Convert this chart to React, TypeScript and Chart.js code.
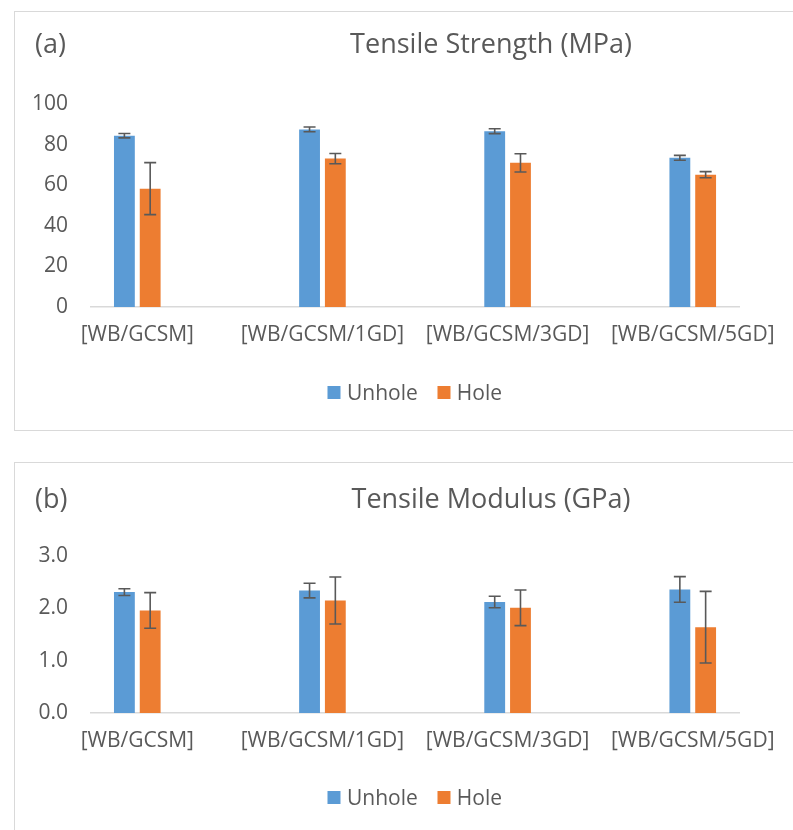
import React, { useEffect, useRef } from "react";
import { Chart, registerables } from "chart.js";

Chart.register(...registerables);

const categories = ["[WB/GCSM]", "[WB/GCSM/1GD]", "[WB/GCSM/3GD]", "[WB/GCSM/5GD]"];
const seriesNames = ["Unhole", "Hole"];

const strengthUnhole = [84.4, 87.5, 86.6, 73.5];
const strengthUnholeErr = [1.1, 1.2, 1.2, 1.2];
const strengthHole = [58.3, 73.1, 71.0, 65.2];
const strengthHoleErr = [12.8, 2.5, 4.5, 1.5];

const modulusUnhole = [2.31, 2.34, 2.12, 2.36];
const modulusUnholeErr = [0.065, 0.14, 0.11, 0.245];
const modulusHole = [1.96, 2.15, 2.01, 1.64];
const modulusHoleErr = [0.34, 0.45, 0.34, 0.685];

const strengthAxis = { min: 0, max: 100, step: 20, decimals: 0 };
const modulusAxis = { min: 0, max: 3, step: 1, decimals: 1 };

const BLUE = "#5B9BD5";
const ORANGE = "#ED7D31";
const TEXT = "#595959";
const LINE = "#D9D9D9";
const FONT = "'Open Sans', 'Noto Sans', sans-serif";

// Excel layout leaves an empty slot between each category
function spread<T>(arr: T[], blank: T): T[] {
  const out: T[] = [];
  arr.forEach((v, i) => {
    out.push(v);
    if (i < arr.length - 1) out.push(blank);
  });
  return out;
}

const errorBarPlugin = {
  id: "errorBars",
  afterDatasetsDraw(chart: any) {
    const ctx = chart.ctx;
    const yScale = chart.scales.y;
    chart.data.datasets.forEach((ds: any, di: number) => {
      const meta = chart.getDatasetMeta(di);
      const errs = ds.errors as (number | null)[];
      if (!errs) return;
      meta.data.forEach((el: any, i: number) => {
        const v = ds.data[i];
        const e = errs[i];
        if (v == null || e == null) return;
        const x = el.x;
        const yT = yScale.getPixelForValue(v + e);
        const yB = yScale.getPixelForValue(v - e);
        ctx.save();
        ctx.strokeStyle = TEXT;
        ctx.lineWidth = 1.6;
        ctx.beginPath();
        ctx.moveTo(x, yT);
        ctx.lineTo(x, yB);
        ctx.moveTo(x - 6, yT);
        ctx.lineTo(x + 6, yT);
        ctx.moveTo(x - 6, yB);
        ctx.lineTo(x + 6, yB);
        ctx.stroke();
        ctx.restore();
      });
    });
  },
};

type PanelProps = {
  top: number;
  height: number;
  tag: string;
  title: string;
  titleBaseline: number;
  unhole: number[];
  unholeErr: number[];
  hole: number[];
  holeErr: number[];
  axis: { min: number; max: number; step: number; decimals: number };
  areaTop: number;
  areaHeight: number;
  legendY: number;
};

function Panel(p: PanelProps) {
  const ref = useRef<HTMLCanvasElement | null>(null);
  const canvasW = 778;
  const canvasH = p.height;

  useEffect(() => {
    if (!ref.current) return;
    const xHeight = canvasH - p.areaTop - p.areaHeight;
    const chart = new Chart(ref.current, {
      type: "bar",
      data: {
        labels: spread(categories, ""),
        datasets: [
          {
            label: seriesNames[0],
            data: spread<number | null>(p.unhole, null),
            errors: spread<number | null>(p.unholeErr, null),
            backgroundColor: BLUE,
            borderWidth: 0,
            categoryPercentage: 0.557,
            barPercentage: 0.808,
          } as any,
          {
            label: seriesNames[1],
            data: spread<number | null>(p.hole, null),
            errors: spread<number | null>(p.holeErr, null),
            backgroundColor: ORANGE,
            borderWidth: 0,
            categoryPercentage: 0.557,
            barPercentage: 0.808,
          } as any,
        ],
      },
      options: {
        responsive: false,
        animation: false,
        devicePixelRatio: 1,
        layout: { padding: { left: 0, right: 49, top: p.areaTop, bottom: 0 } },
        plugins: {
          legend: { display: false },
          title: { display: false },
          tooltip: { enabled: false },
        },
        scales: {
          x: {
            offset: true,
            grid: { display: false, drawTicks: false },
            border: { display: true, color: LINE, width: 1.5 },
            ticks: {
              autoSkip: false,
              maxRotation: 0,
              minRotation: 0,
              padding: 15,
              color: TEXT,
              font: { family: FONT, size: 21 },
            },
            afterFit: (s: any) => {
              s.height = xHeight;
            },
          },
          y: {
            min: p.axis.min,
            max: p.axis.max,
            grid: { display: false, drawTicks: false },
            border: { display: false },
            ticks: {
              stepSize: p.axis.step,
              padding: 23,
              color: TEXT,
              font: { family: FONT, size: 21 },
              callback: (v: any) => Number(v).toFixed(p.axis.decimals),
            },
            afterFit: (s: any) => {
              s.width = 76;
            },
          },
        },
      },
      plugins: [errorBarPlugin],
    });
    return () => chart.destroy();
  }, []);

  const textStyle: React.CSSProperties = {
    position: "absolute",
    fontFamily: FONT,
    color: TEXT,
    whiteSpace: "nowrap",
    lineHeight: 1,
  };

  return (
    <>
      <div
        style={{
          position: "absolute",
          left: 14,
          top: p.top,
          width: 900,
          height: p.height + 2,
          border: `1.5px solid ${LINE}`,
          boxSizing: "border-box",
        }}
      />
      <canvas
        ref={ref}
        width={canvasW}
        height={canvasH}
        style={{ position: "absolute", left: 15, top: p.top + 1, width: canvasW, height: canvasH }}
      />
      <div style={{ ...textStyle, left: 35, top: p.titleBaseline - 24, fontSize: 27 }}>{p.tag}</div>
      <div
        style={{
          ...textStyle,
          left: 491,
          top: p.titleBaseline - 24,
          fontSize: 27,
          transform: "translateX(-50%)",
        }}
      >
        {p.title}
      </div>
      <div
        style={{
          ...textStyle,
          left: 414.5,
          top: p.legendY - 11,
          height: 22,
          fontSize: 21,
          display: "flex",
          alignItems: "center",
          transform: "translateX(-50%)",
        }}
      >
        <span style={{ display: "inline-block", width: 13, height: 13, background: BLUE, marginRight: 7 }} />
        <span>{seriesNames[0]}</span>
        <span
          style={{ display: "inline-block", width: 13, height: 13, background: ORANGE, marginLeft: 20, marginRight: 6 }}
        />
        <span>{seriesNames[1]}</span>
      </div>
    </>
  );
}

export default function App() {
  return (
    <div
      style={{
        position: "absolute",
        left: 0,
        top: 0,
        width: 793,
        height: 830,
        overflow: "hidden",
        background: "#fff",
      }}
    >
      <Panel
        top={11}
        height={418}
        tag="(a)"
        title="Tensile Strength (MPa)"
        titleBaseline={53}
        unhole={strengthUnhole}
        unholeErr={strengthUnholeErr}
        hole={strengthHole}
        holeErr={strengthHoleErr}
        axis={strengthAxis}
        areaTop={92}
        areaHeight={203}
        legendY={392}
      />
      <Panel
        top={462}
        height={367}
        tag="(b)"
        title="Tensile Modulus (GPa)"
        titleBaseline={508}
        unhole={modulusUnhole}
        unholeErr={modulusUnholeErr}
        hole={modulusHole}
        holeErr={modulusHoleErr}
        axis={modulusAxis}
        areaTop={93}
        areaHeight={157}
        legendY={797}
      />
    </div>
  );
}
